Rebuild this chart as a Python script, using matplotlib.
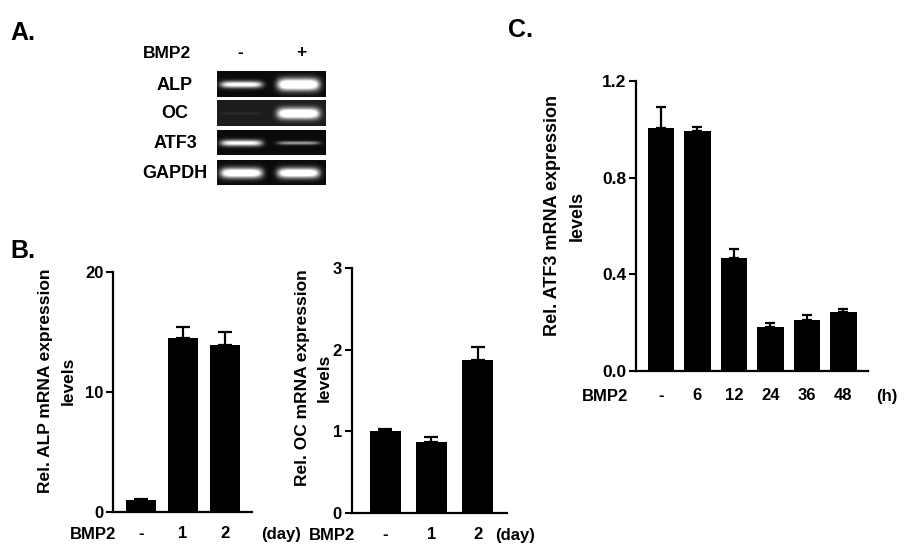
import numpy as np
import matplotlib.pyplot as plt

plt.rcParams['font.family'] = ['Liberation Sans', 'DejaVu Sans']
plt.rcParams['font.weight'] = 'bold'

W, H = 910, 554

# --- datos del gel (panel A) ---
gel_genes = ["ALP", "OC", "ATF3", "GAPDH"]
gel_lanes = ["-", "+"]
gel_minus = [0.75, 0.04, 0.72, 0.92]
gel_plus = [1.0, 0.95, 0.42, 0.92]

# --- panel B ---
b_labels = ["-", "1", "2"]
alp_mean = [1.0, 14.45, 13.9]
alp_err = [0.1, 0.92, 1.05]
oc_mean = [1.0, 0.875, 1.87]
oc_err = [0.03, 0.055, 0.16]

# --- panel C ---
c_labels = ["-", "6", "12", "24", "36", "48"]
atf3_mean = [1.007, 0.993, 0.466, 0.182, 0.21, 0.244]
atf3_err = [0.085, 0.017, 0.038, 0.017, 0.019, 0.01]

fig = plt.figure(figsize=(W / 100, H / 100), dpi=100)


def px_axes(l, t, r, b):
    return fig.add_axes([l / W, 1 - b / H, (r - l) / W, (b - t) / H])


def fig_text(x, y, s, **kw):
    fig.text(x / W, 1 - y / H, s, **kw)


# letras de panel
fig_text(10, 40, "A.", fontsize=18, ha="left", va="baseline")
fig_text(10, 258, "B.", fontsize=18, ha="left", va="baseline")
fig_text(508, 37, "C.", fontsize=18, ha="left", va="baseline")

# ---------------- PANEL A: GEL ----------------
fig_text(167.5, 53, "BMP2", fontsize=12.5, ha="center", va="center")
fig_text(240, 53, gel_lanes[0], fontsize=12.5, ha="center", va="center")
fig_text(301, 53, gel_lanes[1], fontsize=12.5, ha="center", va="center")

gel_rows = [(71, 97), (100, 126), (130, 155), (160, 185)]
gel_x0, gel_x1 = 217, 326
lane_cx = [24, 81]
for gene, (t, b), i_minus, i_plus in zip(gel_genes, gel_rows, gel_minus, gel_plus):
    ax = px_axes(gel_x0, t, gel_x1, b)
    w = gel_x1 - gel_x0
    h = b - t
    xx = np.arange(w)[None, :]
    yy = np.arange(h)[:, None]
    img = np.full((h, w), 0.04 if gene != "OC" else 0.11)
    for cx, inten in zip(lane_cx, [i_minus, i_plus]):
        px = np.exp(-((xx - cx) / 21.0) ** 6)
        py = np.exp(-((yy - h / 2) / (1.5 + 4.5 * inten ** 3)) ** 2)
        img = img + 1.35 * inten * px * py
    ax.imshow(np.clip(img, 0, 1), cmap="gray", vmin=0, vmax=1, aspect="auto",
              interpolation="bilinear")
    ax.set_xticks([])
    ax.set_yticks([])
    for sp in ax.spines.values():
        sp.set_visible(False)
    fig_text(175, (t + b) / 2 + 1, gene, fontsize=13, ha="center", va="center")


# ---------------- PANELES DE BARRAS ----------------
def bar_panel(ax, means, errs, labels, width, ylim, yticks, yticklabels,
              capsize, fs_tick, pre_x, post_x, post_txt, off):
    x = np.arange(len(means))
    ax.bar(x, means, width=width, color="black", zorder=2)
    ax.errorbar(x, means, yerr=[np.zeros(len(errs)), errs], fmt="none",
                ecolor="black", elinewidth=1.6, capsize=capsize, capthick=1.6,
                zorder=1)
    ax.set_ylim(*ylim)
    ax.set_yticks(yticks)
    ax.set_yticklabels(yticklabels, fontsize=fs_tick, fontweight="bold")
    ax.set_xticks(x)
    ax.set_xticklabels(labels, fontsize=12, fontweight="bold")
    ax.tick_params(axis="x", length=0, pad=off * 0.72 - 6)
    ax.tick_params(axis="y", length=5, width=1.5, pad=2)
    for sp in ["top", "right"]:
        ax.spines[sp].set_visible(False)
    for sp in ["left", "bottom"]:
        ax.spines[sp].set_linewidth(1.6)
    tr = ax.get_xaxis_transform()
    y_txt = -off / (ax.get_position().height * H)
    ax.text(pre_x, y_txt, "BMP2", transform=tr, fontsize=12, ha="center",
            va="center", fontweight="bold")
    ax.text(post_x, y_txt, post_txt, transform=tr, fontsize=12, ha="center",
            va="center", fontweight="bold")


ax_alp = px_axes(113, 271.7, 252, 511.7)
ax_alp.set_xlim(-0.667, 2.643)
bar_panel(ax_alp, alp_mean, alp_err, b_labels, 0.714, (0, 20), [0, 10, 20],
          ["0", "10", "20"], 5, 12, -1.14, 3.33, "(day)", 23)
ax_oc = px_axes(351.7, 267.7, 506.7, 513.3)
ax_oc.set_xlim(-0.72, 2.63)
bar_panel(ax_oc, oc_mean, oc_err, b_labels, 0.67, (0, 3), [0, 1, 2, 3],
          ["0", "1", "2", "3"], 5, 12, -1.15, 2.81, "(day)", 22)
ax_c = px_axes(636, 81, 868.3, 370.7)
ax_c.set_xlim(-0.685, 5.68)
bar_panel(ax_c, atf3_mean, atf3_err, c_labels, 0.73, (0, 1.2),
          [0, 0.4, 0.8, 1.2], ["0.0", "0.4", "0.8", "1.2"], 3.6, 12.5,
          -1.53, 6.19, "(h)", 26)

fig_text(57, 381, "Rel. ALP mRNA expression\nlevels", fontsize=12.5,
         rotation=90, ha="center", va="center", linespacing=1.6,
         multialignment="center")
fig_text(313.5, 378, "Rel. OC mRNA expression\nlevels", fontsize=12.5,
         rotation=90, ha="center", va="center", linespacing=1.6,
         multialignment="center")
fig_text(564.5, 216, "Rel. ATF3 mRNA expression\nlevels", fontsize=13,
         rotation=90, ha="center", va="center", linespacing=1.6,
         multialignment="center")

fig.savefig("out.png", dpi=100)
